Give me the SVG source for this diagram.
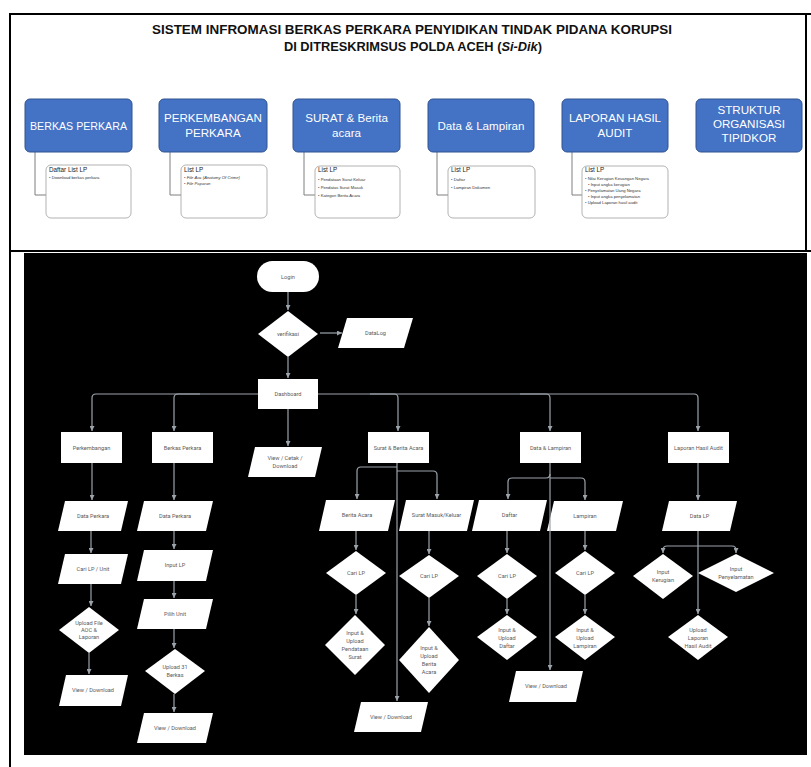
<svg xmlns="http://www.w3.org/2000/svg" width="811" height="767" viewBox="0 0 811 767">
<defs>
<marker id="ah" markerUnits="userSpaceOnUse" markerWidth="5" markerHeight="5" refX="5" refY="2.5" orient="auto"><path d="M0,0 L5,2.5 L0,5 z" fill="#9ba3ab"/></marker>
<style>
.frame{stroke:#000;stroke-width:2;fill:none}
.title{font-family:"Liberation Sans",Arial,sans-serif;font-size:12px;font-weight:bold;fill:#111;text-anchor:middle}
.blue{fill:#4472C4;stroke:#2F528F;stroke-width:1}
.bt{font-family:"Liberation Sans",Arial,sans-serif;font-size:11.6px;fill:#fff;text-anchor:middle}
.sub{fill:#fff;stroke:#a0a0a0;stroke-width:0.8}
.sh{font-family:"Liberation Sans",Arial,sans-serif;font-size:6.3px;fill:#222}
.sl{font-family:"Liberation Sans",Arial,sans-serif;font-size:4.2px;fill:#333}
.lk{stroke:#7f7f7f;stroke-width:1;fill:none}
.fc{fill:#fff}
.ft{font-family:Roboto,"DejaVu Sans",sans-serif;font-size:5.6px;fill:#5a5a5a;text-anchor:middle}
.con{stroke:#9ba3ab;stroke-width:1.2;fill:none}
.arr{marker-end:url(#ah)}
</style>
</defs>
<rect width="811" height="767" fill="#fff"/>

<!-- table frame -->
<g id="frame">
<path class="frame" d="M9,14 H811 M10,14 V767 M806,14 V251 M9,251 H811"/>
<rect x="24" y="253" width="783" height="502" fill="#000"/>
</g>

<!-- title -->
<g id="title">
<text class="title" x="412" y="34" textLength="520" lengthAdjust="spacingAndGlyphs">SISTEM INFROMASI BERKAS PERKARA PENYIDIKAN TINDAK PIDANA KORUPSI</text>
<text class="title" x="413" y="51" textLength="258" lengthAdjust="spacingAndGlyphs">DI DITRESKRIMSUS POLDA ACEH (<tspan font-style="italic">Si-Dik</tspan>)</text>
</g>

<!-- top menu links -->
<g id="menu-links">
<path class="lk" d="M35,152 V195 H46"/>
<path class="lk" d="M170,152 V195 H181"/>
<path class="lk" d="M304,152 V195 H315"/>
<path class="lk" d="M437,152 V195 H448"/>
<path class="lk" d="M572,152 V195 H582"/>
</g>

<g id="menu-berkas">
<rect class="blue" x="25" y="99" width="107" height="53" rx="5"/>
<text class="bt" x="78.5" y="130" textLength="97" lengthAdjust="spacingAndGlyphs">BERKAS PERKARA</text>
<rect class="sub" x="46" y="165" width="85" height="53" rx="5"/>
<text class="sh" x="49" y="172">Daftar List LP</text>
<text class="sl" x="49" y="179">• Download berkas perkara</text>
</g>
<g id="menu-perkembangan">
<rect class="blue" x="159" y="99" width="108" height="53" rx="5"/>
<text class="bt" x="213" y="122">PERKEMBANGAN</text>
<text class="bt" x="213" y="137">PERKARA</text>
<rect class="sub" x="181" y="165" width="86" height="53" rx="5"/>
<text class="sh" x="184" y="172">List LP</text>
<text class="sl" x="184" y="179">• <tspan font-style="italic">File Aoc (Anatomy Of Crime)</tspan></text>
<text class="sl" x="184" y="185">• <tspan font-style="italic">File Paparan</tspan></text>
</g>
<g id="menu-surat">
<rect class="blue" x="293" y="99" width="107" height="53" rx="5"/>
<text class="bt" x="346.5" y="122">SURAT &amp; Berita</text>
<text class="bt" x="346.5" y="137">acara</text>
<rect class="sub" x="315" y="166" width="85" height="52" rx="5"/>
<text class="sh" x="318" y="172">List LP</text>
<text class="sl" x="318" y="181">• Pendataan  Surat Keluar</text>
<text class="sl" x="318" y="189">• Pendatas Surat Masuk</text>
<text class="sl" x="318" y="197">• Kategori Berita Acara</text>
</g>
<g id="menu-data">
<rect class="blue" x="428" y="99" width="106" height="53" rx="5"/>
<text class="bt" x="481" y="130">Data &amp; Lampiran</text>
<rect class="sub" x="448" y="166" width="87" height="52" rx="5"/>
<text class="sh" x="451" y="172">List LP</text>
<text class="sl" x="451" y="181">• Daftar</text>
<text class="sl" x="451" y="189">• Lampiran  Dokumen</text>
</g>
<g id="menu-laporan">
<rect class="blue" x="562" y="99" width="106" height="53" rx="5"/>
<text class="bt" x="615" y="122">LAPORAN HASIL</text>
<text class="bt" x="615" y="137">AUDIT</text>
<rect class="sub" x="582" y="166" width="86" height="52" rx="5"/>
<text class="sh" x="585" y="172">List LP</text>
<text class="sl" x="585" y="180">• Nilai Kerugian  Keuangan Negara</text>
<text class="sl" x="588" y="186">• Input angka kerugian</text>
<text class="sl" x="585" y="192">• Penyelamatan  Uang Negara</text>
<text class="sl" x="588" y="198">• Input angka penyelamatan</text>
<text class="sl" x="585" y="204">• Upload Laporan hasil audit</text>
</g>
<g id="menu-struktur">
<rect class="blue" x="696" y="99" width="106" height="53" rx="5"/>
<text class="bt" x="749" y="114">STRUKTUR</text>
<text class="bt" x="749" y="128">ORGANISASI</text>
<text class="bt" x="749" y="142">TIPIDKOR</text>
</g>

<!-- flowchart nodes -->
<g id="login"><rect class="fc" x="257" y="261" width="62" height="31" rx="15.5"/><text class="ft" x="288" y="279">Login</text></g>
<g id="verifikasi"><polygon class="fc" points="288,311 318,334 288,357 258,334"/><text class="ft" x="288" y="336">verifikasi</text></g>
<g id="datalog"><polygon class="fc" points="347,318 413,318 404,348 338,348"/><text class="ft" x="375.5" y="335">DataLog</text></g>
<g id="dashboard"><rect class="fc" x="258" y="379" width="60" height="30"/><text class="ft" x="288" y="396">Dashboard</text></g>
<g id="perkembangan"><rect class="fc" x="61" y="432" width="61" height="31"/><text class="ft" x="91.5" y="450">Perkembangan</text></g>
<g id="berkas-perkara"><rect class="fc" x="152" y="432" width="61" height="31"/><text class="ft" x="182.5" y="450">Berkas Perkara</text></g>
<g id="view-cetak"><polygon class="fc" points="255,447 322,447 315,477 248,477"/><text class="ft" x="285" y="460">View / Cetak /</text><text class="ft" x="285" y="468">Download</text></g>
<g id="surat-berita"><rect class="fc" x="368" y="432" width="61" height="31"/><text class="ft" x="398.5" y="450">Surat &amp; Berita Acara</text></g>
<g id="data-lampiran"><rect class="fc" x="520" y="432" width="61" height="31"/><text class="ft" x="550.5" y="450">Data &amp; Lampiran</text></g>
<g id="laporan-audit"><rect class="fc" x="668" y="432" width="61" height="31"/><text class="ft" x="698.5" y="450">Laporan Hasil Audit</text></g>

<g id="data-perkara-1"><polygon class="fc" points="65,501 128,501 121,531 58,531"/><text class="ft" x="93" y="518">Data Perkara</text></g>
<g id="cari-lp-unit"><polygon class="fc" points="65,554 128,554 121,584 58,584"/><text class="ft" x="93" y="571">Cari  LP / Unit</text></g>
<g id="upload-aoc"><polygon class="fc" points="89,607 119,630 89,653 59,630"/><text class="ft" x="89" y="625">Upload File</text><text class="ft" x="89" y="632">AOC &amp;</text><text class="ft" x="89" y="639">Laporan</text></g>
<g id="view-download-1"><polygon class="fc" points="66,675 128,675 121,706 59,706"/><text class="ft" x="93" y="692">View / Download</text></g>

<g id="data-perkara-2"><polygon class="fc" points="144,501 213,501 206,531 137,531"/><text class="ft" x="175" y="518">Data Perkara</text></g>
<g id="input-lp"><polygon class="fc" points="144,550 213,550 206,581 137,581"/><text class="ft" x="175" y="567">Input LP</text></g>
<g id="pilih-unit"><polygon class="fc" points="144,599 213,599 206,629 137,629"/><text class="ft" x="175" y="616">Pilih Unit</text></g>
<g id="upload-31"><polygon class="fc" points="175,649 205,671 175,694 145,671"/><text class="ft" x="175" y="669">Upload 31</text><text class="ft" x="175" y="677">Berkas</text></g>
<g id="view-download-2"><polygon class="fc" points="144,713 213,713 206,743 137,743"/><text class="ft" x="175" y="730">View / Download</text></g>

<g id="berita-acara"><polygon class="fc" points="326,500 395,500 388,531 319,531"/><text class="ft" x="357" y="517">Berita Acara</text></g>
<g id="cari-lp-ba"><polygon class="fc" points="356,551 386,573 356,595 326,573"/><text class="ft" x="356" y="575">Cari LP</text></g>
<g id="upload-pendataan"><polygon class="fc" points="355,615 385,645 355,675 325,645"/><text class="ft" x="355" y="635">Input &amp;</text><text class="ft" x="355" y="643">Upload</text><text class="ft" x="355" y="651">Pendataan</text><text class="ft" x="355" y="659">Surat</text></g>

<g id="surat-masuk-keluar"><polygon class="fc" points="406,500 474,500 467,531 399,531"/><text class="ft" x="436.5" y="517">Surat Masuk/Keluar</text></g>
<g id="cari-lp-smk"><polygon class="fc" points="429,555 459,576 429,598 399,576"/><text class="ft" x="429" y="578">Cari LP</text></g>
<g id="upload-berita"><polygon class="fc" points="429,627 459,660 429,693 399,660"/><text class="ft" x="429" y="650">Input &amp;</text><text class="ft" x="429" y="658">Upload</text><text class="ft" x="429" y="666">Berita</text><text class="ft" x="429" y="674">Acara</text></g>
<g id="view-download-3"><polygon class="fc" points="361,702 428,702 421,732 354,732"/><text class="ft" x="391" y="719">View / Download</text></g>

<g id="daftar"><polygon class="fc" points="479,500 547,500 540,531 472,531"/><text class="ft" x="509.5" y="517">Daftar</text></g>
<g id="cari-lp-daftar"><polygon class="fc" points="507,554 537,576 507,599 477,576"/><text class="ft" x="507" y="578">Cari LP</text></g>
<g id="upload-daftar"><polygon class="fc" points="507,615 537,637 507,660 477,637"/><text class="ft" x="507" y="632">Input &amp;</text><text class="ft" x="507" y="640">Upload</text><text class="ft" x="507" y="648">Daftar</text></g>

<g id="lampiran"><polygon class="fc" points="554,501 623,501 616,531 547,531"/><text class="ft" x="585" y="518">Lampiran</text></g>
<g id="cari-lp-lampiran"><polygon class="fc" points="585,551 615,573 585,595 555,573"/><text class="ft" x="585" y="575">Cari LP</text></g>
<g id="upload-lampiran"><polygon class="fc" points="585,615 615,637 585,660 555,637"/><text class="ft" x="585" y="632">Input &amp;</text><text class="ft" x="585" y="640">Upload</text><text class="ft" x="585" y="648">Lampiran</text></g>
<g id="view-download-4"><polygon class="fc" points="516,671 583,671 576,702 509,702"/><text class="ft" x="546" y="688">View / Download</text></g>

<g id="data-lp"><polygon class="fc" points="669,501 737,501 730,531 662,531"/><text class="ft" x="699.5" y="518">Data LP</text></g>
<g id="input-kerugian"><polygon class="fc" points="663,554 693,576 663,599 633,576"/><text class="ft" x="663" y="574">Input</text><text class="ft" x="663" y="582">Kerugian</text></g>
<g id="input-penyelamatan"><polygon class="fc" points="736,554 774,573 736,592 698,573"/><text class="ft" x="736" y="571">Input</text><text class="ft" x="736" y="579">Penyelamatan</text></g>
<g id="upload-laporan"><polygon class="fc" points="698,615 728,637 698,660 668,637"/><text class="ft" x="698" y="632">Upload</text><text class="ft" x="698" y="640">Laporan</text><text class="ft" x="698" y="648">Hasil Audit</text></g>

<!-- connectors -->
<g id="connectors" class="con">
<path class="arr" d="M288,292 V310"/>
<path class="arr" d="M320,333 H342"/>
<path class="arr" d="M288,357 V378"/>
<path class="arr" d="M258,394 H96 Q92,394 92,398 V431"/>
<path class="arr" d="M200,394 H178 Q174,394 174,398 V431"/>
<path class="arr" d="M288,409 V446"/>
<path class="arr" d="M318,394 H694 Q698,394 698,398 V431"/>
<path class="arr" d="M370,394 H394 Q398,394 398,398 V431"/>
<path class="arr" d="M520,394 H546 Q550,394 550,398 V431"/>

<path class="arr" d="M92,463 V500"/>
<path class="arr" d="M91,531 V553"/>
<path class="arr" d="M91,584 V606"/>
<path class="arr" d="M89,653 V674"/>

<path class="arr" d="M174,463 V500"/>
<path class="arr" d="M174,531 V549"/>
<path class="arr" d="M174,581 V598"/>
<path class="arr" d="M174,629 V648"/>
<path class="arr" d="M174,694 V712"/>

<path class="arr" d="M397,463 V701"/>
<path class="arr" d="M397,467 H361 Q357,467 357,471 V499"/>
<path class="arr" d="M397,471 H433 Q437,471 437,475 V499"/>
<path class="arr" d="M356,531 V550"/>
<path class="arr" d="M356,595 V614"/>
<path class="arr" d="M429,531 V554"/>
<path class="arr" d="M429,598 V626"/>

<path class="arr" d="M550,463 V670"/>
<path class="arr" d="M550,474 Q550,478 546,478 H512 Q508,478 508,482 V499"/>
<path class="arr" d="M550,478 H581 Q585,478 585,482 V500"/>
<path class="arr" d="M507,531 V553"/>
<path class="arr" d="M507,599 V614"/>
<path class="arr" d="M585,531 V550"/>
<path class="arr" d="M585,595 V614"/>

<path class="arr" d="M698,463 V500"/>
<path class="arr" d="M698,531 V614"/>
<path class="arr" d="M698,546 H667 Q663,546 663,550 V553"/>
<path class="arr" d="M698,546 H732 Q736,546 736,550 V553"/>
</g>
</svg>
